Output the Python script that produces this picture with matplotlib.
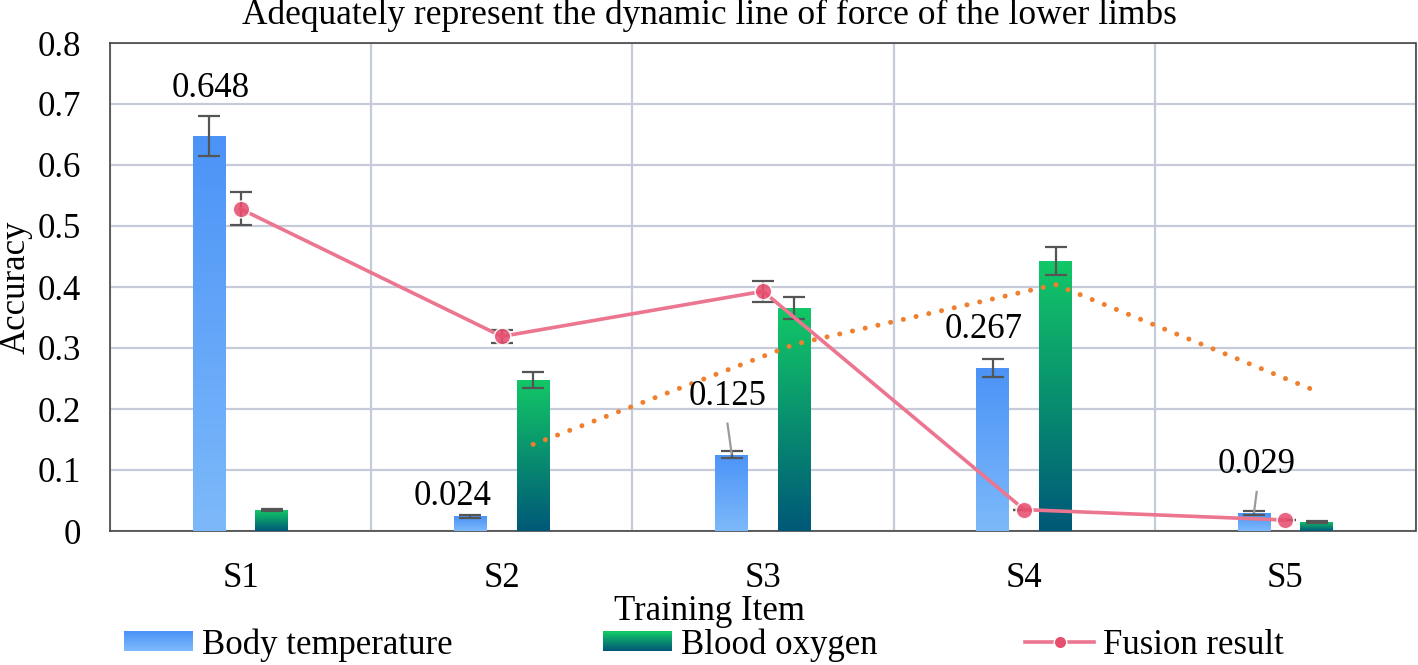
import numpy as np
import matplotlib
matplotlib.use("Agg")
import matplotlib.pyplot as plt
from matplotlib.colors import LinearSegmentedColormap, to_rgb
from matplotlib.patches import Rectangle
from matplotlib.lines import Line2D
from matplotlib.legend_handler import HandlerBase

plt.rcParams["font.family"] = ["Liberation Serif", "DejaVu Serif"]

# ---------------- 数据 ----------------
categories = ["S1", "S2", "S3", "S4", "S5"]
body_temp = [0.648, 0.024, 0.125, 0.267, 0.029]
body_temp_err = [0.033, 0.003, 0.006, 0.015, 0.003]
blood_oxygen = [0.034, 0.248, 0.365, 0.443, 0.015]
blood_oxygen_err = [0.002, 0.013, 0.018, 0.023, 0.002]
fusion = [0.528, 0.319, 0.393, 0.035, 0.018]
fusion_err = [0.027, 0.010, 0.017, 0.0, 0.0]
# 血氧的两期移动平均趋势线（从图中读取，S2~S5）
trend_idx = [1, 2, 3, 4]
trend_vals = [0.142, 0.306, 0.404, 0.229]

# 数据标签：体温柱的数值
label_idx = [0, 1, 2, 3, 4]
label_pos = [(-0.113, 0.726), (0.81, 0.056), (1.864, 0.221), (2.845, 0.331), (3.89, 0.109)]
leader_idx = [2, 4]

BLUE_TOP, BLUE_BOT = "#4B93F7", "#7DB9FA"
GREEN_TOP, GREEN_BOT = "#12C866", "#005878"
FUSION_LINE = "#EC7590"
FUSION_MARK = "#E64E6E"
ERR_COLOR = "#555555"
GRID_COLOR = "#C6CAD9"

x = np.arange(len(categories))
w = 0.126
off = 0.12

fig = plt.figure(figsize=(14.18, 6.65), dpi=100)
ax = fig.add_axes([110 / 1418, 1 - 531 / 665, 1306 / 1418, 488 / 665])


def gradient_bars(ax, xs, heights, top, bot):
    bars = ax.bar(xs, heights, width=w, color="none", edgecolor="none", zorder=3)
    cmap = LinearSegmentedColormap.from_list("g", [bot, top])
    grad = np.linspace(0, 1, 256).reshape(-1, 1)
    for b in bars:
        x0, y0 = b.get_x(), b.get_y()
        im = ax.imshow(grad, cmap=cmap, origin="lower", aspect="auto",
                       extent=[x0, x0 + b.get_width(), y0, y0 + b.get_height()],
                       zorder=3, interpolation="bilinear")
        im.set_clip_path(b)
    return bars


gradient_bars(ax, x - off, body_temp, BLUE_TOP, BLUE_BOT)
gradient_bars(ax, x + off, blood_oxygen, GREEN_TOP, GREEN_BOT)

ax.errorbar(x - off, body_temp, yerr=body_temp_err, fmt="none", ecolor=ERR_COLOR,
            elinewidth=1.6, capsize=8, capthick=1.6, zorder=4)
ax.errorbar(x + off, blood_oxygen, yerr=blood_oxygen_err, fmt="none", ecolor=ERR_COLOR,
            elinewidth=1.6, capsize=8, capthick=1.6, zorder=4)

# 趋势线（橙色点线）
ax.plot(x[trend_idx] + off, trend_vals, color="#F07F2E", lw=3.6,
        linestyle=(0, (0.01, 2.6)), dash_capstyle="round", zorder=5)

# 融合结果
ax.errorbar(x, fusion, yerr=fusion_err, fmt="none", ecolor=ERR_COLOR,
            elinewidth=1.6, capsize=8, capthick=1.6, zorder=5)
ax.plot(x, fusion, color=FUSION_LINE, lw=2.6, zorder=6)
ax.plot(x, fusion, linestyle="none", marker="o", ms=12, mfc=FUSION_MARK,
        mec="white", mew=1.2, alpha=0.88, zorder=7)

# 数据标签
for i, (lx, ly) in zip(label_idx, label_pos):
    ax.text(lx, ly, f"{body_temp[i]:.3f}", ha="center", va="center", fontsize=25, zorder=8)
for i in leader_idx:
    lx, ly = label_pos[i]
    ax.plot([lx, x[i] - off], [ly - 0.045, body_temp[i] + 0.002],
            color="#9A9A9A", lw=1.6, zorder=6)

ax.set_xlim(-0.5, 4.5)
ax.set_ylim(0, 0.8)
ax.set_yticks(np.arange(0, 0.81, 0.1))
ax.set_yticklabels(["0"] + [f"{v:.1f}" for v in np.arange(0.1, 0.81, 0.1)])
ax.set_xticks(x)
ax.set_xticklabels(categories)
ax.tick_params(axis="both", length=0, labelsize=25)
ax.tick_params(axis="y", pad=21)
ax.tick_params(axis="x", pad=22)
ax.set_xticks(np.arange(-0.5, 4.6, 1), minor=True)
ax.grid(axis="y", color=GRID_COLOR, lw=1.6, zorder=0)
ax.grid(axis="x", which="minor", color=GRID_COLOR, lw=1.6, zorder=0)
ax.tick_params(axis="x", which="minor", length=0)
ax.set_axisbelow(True)
for s in ax.spines.values():
    s.set_color("#444444")
    s.set_linestyle((0, (1, 1)))
    s.set_linewidth(1.2)

fig.text(709 / 1418, 1 - 15 / 665, "Adequately represent the dynamic line of force of the lower limbs",
         ha="center", va="center", fontsize=25.5)
fig.text(16 / 1418, 1 - 287 / 665, "Accuracy", rotation=90, ha="center", va="center", fontsize=25)
fig.text(709 / 1418, 1 - 612 / 665, "Training Item", ha="center", va="center", fontsize=25)


class GradientHandler(HandlerBase):
    def __init__(self, top, bot):
        super().__init__()
        self.top, self.bot = np.array(to_rgb(top)), np.array(to_rgb(bot))

    def create_artists(self, legend, orig_handle, xdescent, ydescent, width, height, fontsize, trans):
        n = 20
        arts = []
        for k in range(n):
            t = k / (n - 1)
            c = self.bot * (1 - t) + self.top * t
            r = Rectangle((-xdescent, -ydescent + height * k / n), width, height / n + 0.3,
                          facecolor=c, edgecolor="none", transform=trans)
            arts.append(r)
        return arts


h_blue = Rectangle((0, 0), 1, 1)
h_green = Rectangle((0, 0), 1, 1)
h_fus = Line2D([], [], color=FUSION_LINE, lw=2.6, marker="o", ms=9,
               mfc=FUSION_MARK, mec="white", mew=1)

leg_kw = dict(frameon=False, fontsize=25, handlelength=2.0, handleheight=0.5,
              handletextpad=0.25, borderpad=0, borderaxespad=0)
fig.legend([h_blue], ["Body temperature"], loc="center left",
           bbox_to_anchor=(124 / 1418, 1 - 645 / 665),
           handler_map={h_blue: GradientHandler(BLUE_TOP, BLUE_BOT)}, **leg_kw)
fig.legend([h_green], ["Blood oxygen"], loc="center left",
           bbox_to_anchor=(603 / 1418, 1 - 645 / 665),
           handler_map={h_green: GradientHandler(GREEN_TOP, GREEN_BOT)}, **leg_kw)
fig.legend([h_fus], ["Fusion result"], loc="center left",
           bbox_to_anchor=(1025 / 1418, 1 - 645 / 665), **leg_kw)

fig.savefig("out.png", dpi=100)
